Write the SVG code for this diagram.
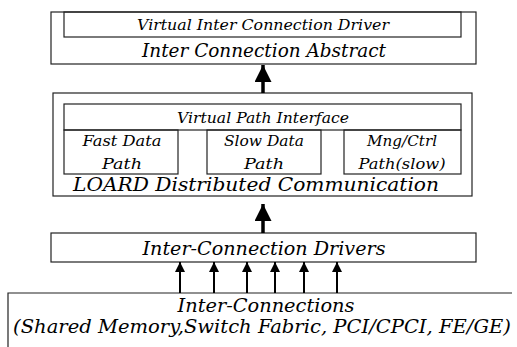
<svg xmlns="http://www.w3.org/2000/svg" width="517" height="347" viewBox="0 0 517 347">
<style>
.box{fill:none;stroke:#222;stroke-width:1.2}
.t{font-family:'DejaVu Serif',serif;font-style:italic;fill:#000;text-anchor:middle}
.s{font-size:15px}
.m{font-size:15px}
.l{font-size:19px}
.ar{stroke:#000;stroke-width:2}
.big{stroke:#000;stroke-width:3.5}
</style>
<defs>
<marker id="ah" viewBox="0 0 10 10" refX="10" refY="5" markerWidth="10" markerHeight="10" markerUnits="userSpaceOnUse" orient="auto">
<path d="M0,0 L10,5 L0,10 z" fill="#000"/>
</marker>
<marker id="bh" viewBox="0 0 10 10" refX="10" refY="5" markerWidth="18" markerHeight="17" markerUnits="userSpaceOnUse" orient="auto">
<path d="M0,0 L10,5 L0,10 z" fill="#000"/>
</marker>
</defs>
<g id="abstract">
<rect class="box" x="51" y="12" width="425" height="52"/>
<rect class="box" x="64" y="12" width="397" height="25"/>
<text class="t s" x="263" y="30" textLength="252" lengthAdjust="spacingAndGlyphs">Virtual Inter Connection Driver</text>
<text class="t l" x="264" y="57" textLength="244" lengthAdjust="spacingAndGlyphs">Inter Connection Abstract</text>
</g>
<g id="loard">
<rect class="box" x="53" y="93" width="419" height="103"/>
<rect class="box" x="64" y="104" width="397" height="26"/>
<text class="t m" x="263" y="123" textLength="172" lengthAdjust="spacingAndGlyphs">Virtual Path Interface</text>
<rect class="box" x="64" y="130" width="114" height="44"/>
<text class="t m" x="122" y="146" textLength="79" lengthAdjust="spacingAndGlyphs">Fast Data</text>
<text class="t m" x="122" y="169" textLength="40" lengthAdjust="spacingAndGlyphs">Path</text>
<rect class="box" x="207" y="130" width="114" height="44"/>
<text class="t m" x="264" y="146" textLength="80" lengthAdjust="spacingAndGlyphs">Slow Data</text>
<text class="t m" x="264" y="169" textLength="40" lengthAdjust="spacingAndGlyphs">Path</text>
<rect class="box" x="344" y="130" width="117" height="44"/>
<text class="t m" x="402" y="146" textLength="70" lengthAdjust="spacingAndGlyphs">Mng/Ctrl</text>
<text class="t m" x="402" y="169" textLength="87" lengthAdjust="spacingAndGlyphs">Path(slow)</text>
<text class="t l" x="256" y="191" textLength="366" lengthAdjust="spacingAndGlyphs">LOARD Distributed Communication</text>
</g>
<g id="drivers">
<rect class="box" x="51" y="233" width="425" height="29"/>
<text class="t l" x="264" y="255" textLength="243" lengthAdjust="spacingAndGlyphs">Inter-Connection Drivers</text>
</g>
<g id="interconnections">
<path class="box" d="M8,347 L8,293 L512,293"/>
<text class="t l" x="266" y="312" textLength="177" lengthAdjust="spacingAndGlyphs">Inter-Connections</text>
<text class="t l" x="262" y="333" textLength="498" lengthAdjust="spacingAndGlyphs">(Shared Memory,Switch Fabric, PCI/CPCI, FE/GE)</text>
</g>
<g id="connectors">
<line class="big" x1="263" y1="93" x2="263" y2="65" marker-end="url(#bh)"/>
<line class="big" x1="263" y1="233" x2="263" y2="204" marker-end="url(#bh)"/>
<line class="ar" x1="180" y1="293" x2="180" y2="262" marker-end="url(#ah)"/>
<line class="ar" x1="214" y1="293" x2="214" y2="262" marker-end="url(#ah)"/>
<line class="ar" x1="247" y1="293" x2="247" y2="262" marker-end="url(#ah)"/>
<line class="ar" x1="275" y1="293" x2="275" y2="262" marker-end="url(#ah)"/>
<line class="ar" x1="304" y1="293" x2="304" y2="262" marker-end="url(#ah)"/>
<line class="ar" x1="337" y1="293" x2="337" y2="262" marker-end="url(#ah)"/>
</g>
</svg>
